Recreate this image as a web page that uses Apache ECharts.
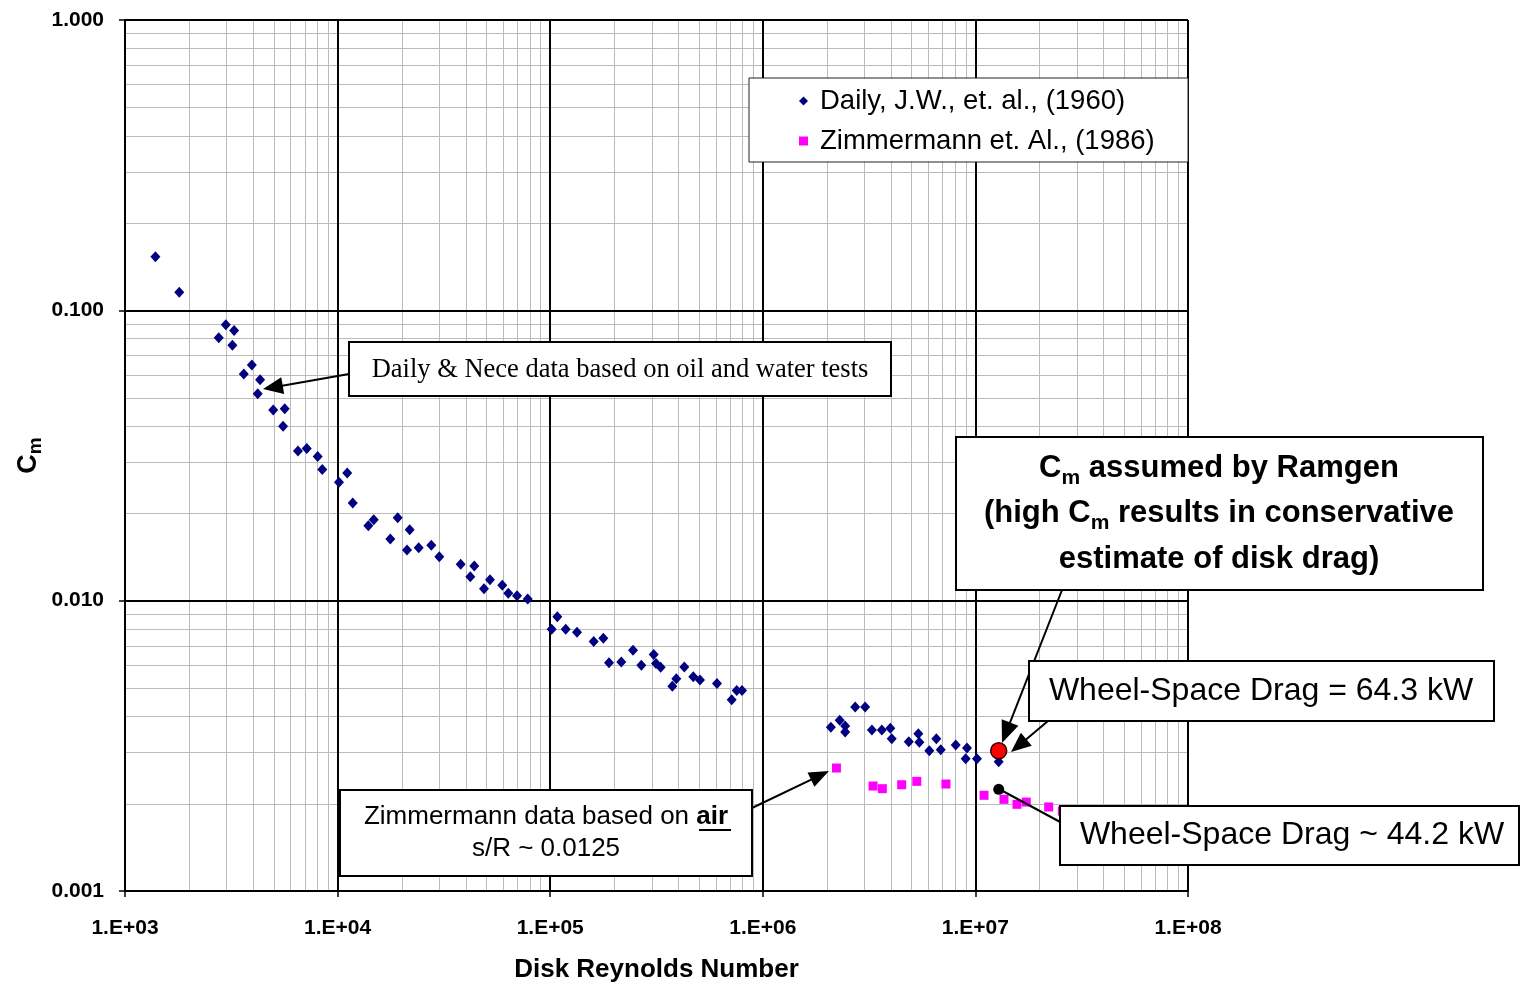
<!DOCTYPE html>
<html><head><meta charset="utf-8">
<script src="https://cdn.jsdelivr.net/npm/echarts@6/dist/echarts.min.js"></script>
<style>html,body{margin:0;padding:0;background:#fff}#c{width:1520px;height:985px}</style>
</head><body><div id="c"></div>
<script>
// ---- data ----
const dailyRe = [1390, 1800, 2760, 2980, 3260, 3200, 3950, 3620, 4320, 4210,
  4980, 5640, 5540, 6510, 7160, 8060, 8470, 10150, 11100, 11780,
  13950, 14790, 19170, 17700, 21830, 21210, 24070, 27590, 30090, 37930,
  43950, 42090, 52100, 48820, 59510, 63520, 69820, 78380, 101600, 108000,
  118300, 133700, 160200, 177800, 189100, 216000, 245200, 268300, 306800, 314500,
  330800, 427400, 391900, 375300, 471000, 506500, 609000, 714100, 753900, 798500,
  2.09e6, 2.30e6, 2.44e6, 2.44e6, 2.72e6, 3.03e6, 3.26e6, 3.63e6, 3.98e6, 4.04e6,
  4.86e6, 5.39e6, 5.45e6, 6.07e6, 6.55e6, 6.87e6, 8.08e6, 9.13e6, 9.00e6, 1.017e7,
  1.287e7];
const dailyCm = [0.1530, 0.1154, 0.0805, 0.0892, 0.0853, 0.0758, 0.0648, 0.0603, 0.0577, 0.0516,
  0.0454, 0.0458, 0.0399, 0.0328, 0.0334, 0.0314, 0.0283, 0.0256, 0.0275, 0.0217,
  0.0181, 0.0190, 0.0193, 0.0163, 0.01755, 0.01494, 0.01522, 0.01551, 0.01417, 0.01334,
  0.01316, 0.01209, 0.01181, 0.01100, 0.01129, 0.01060, 0.01040, 0.01013, 0.00797, 0.00881,
  0.00797, 0.00778, 0.00724, 0.00742, 0.00611, 0.00615, 0.00675, 0.00599, 0.00653, 0.00608,
  0.00590, 0.00591, 0.00538, 0.00507, 0.00547, 0.00533, 0.00518, 0.00456, 0.00490, 0.00490,
  0.003663, 0.003872, 0.003700, 0.003529, 0.004302, 0.004302, 0.003585, 0.003585, 0.003634, 0.003346,
  0.003267, 0.003481, 0.003252, 0.003042, 0.003346, 0.003067, 0.003184, 0.003108, 0.002855, 0.002855,
  0.002788];
const zimRe = [2.22e6, 3.30e6, 3.65e6, 4.50e6, 5.30e6, 7.27e6, 1.098e7, 1.363e7, 1.569e7, 1.735e7, 2.212e7, 2.563e7];
const zimCm = [0.002652, 0.002299, 0.002251, 0.002323, 0.002386, 0.002336, 0.002136, 0.002069, 0.001989, 0.002025, 0.001947, 0.001886];
const ramgenRe = [1.287e7];
const ramgenCm = [0.00304];
const wheelRe = [1.287e7];
const wheelCm = [0.00224];
const seriesNames = ['Daily, J.W., et. al., (1960)', 'Zimmermann et. Al., (1986)'];
const xTickLabels = ['1.E+03', '1.E+04', '1.E+05', '1.E+06', '1.E+07', '1.E+08'];
const yTickLabels = ['0.001', '0.010', '0.100', '1.000'];
const xDecadeExps = [3, 4, 5, 6, 7];
const yDecadeExps = [-3, -2, -1];
const minorMultipliers = [2, 3, 4, 5, 6, 7, 8, 9];

// ---- build ----
const SANS = '"Liberation Sans", Arial, sans-serif';
const SERIF = '"Liberation Serif", "Times New Roman", serif';
const minorX = [], minorY = [];
xDecadeExps.forEach(k => minorMultipliers.forEach(m => minorX.push(m * Math.pow(10, k))));
yDecadeExps.forEach(k => minorMultipliers.forEach(m => minorY.push(m * Math.pow(10, k))));
const gridData = minorX.map(v => [v, 0.01, 0]).concat(minorY.map(v => [1e5, v, 1]));

function arrow(x1, y1, x2, y2, hl, hw) {
  hl = hl || 20; hw = hw || 16;
  const dx = x2 - x1, dy = y2 - y1, L = Math.hypot(dx, dy);
  const ux = dx / L, uy = dy / L, px = -uy, py = ux;
  const bx = x2 - ux * hl, by = y2 - uy * hl;
  return [
    {type: 'line', z: 10, shape: {x1: x1, y1: y1, x2: bx + ux * 2, y2: by + uy * 2}, style: {stroke: '#000', lineWidth: 2}},
    {type: 'polygon', z: 10, shape: {points: [[x2, y2], [bx + px * hw / 2, by + py * hw / 2], [bx - px * hw / 2, by - py * hw / 2]]}, style: {fill: '#000'}}
  ];
}
function box(x, y, w, h) {
  return {type: 'rect', z: 10, shape: {x: x, y: y, width: w, height: h}, style: {fill: '#fff', stroke: '#000', lineWidth: 2}};
}
function txt(x, y, text, o) {
  return {type: 'text', z: 11, x: x, y: y, style: Object.assign({text: text, align: 'center', verticalAlign: 'middle', fill: '#000', fontFamily: SANS, fontSize: 26}, o || {})};
}
const subRich = {
  b: {fontFamily: SANS, fontSize: 31, fontWeight: 'bold', lineHeight: 31, color: '#000'},
  s: {fontFamily: SANS, fontSize: 21, fontWeight: 'bold', lineHeight: 21, padding: [20, 0, 0, 0], color: '#000'}
};

const graphics = [
  // legend frame
  {type: 'rect', z: 3, shape: {x: 749, y: 78, width: 439, height: 84}, style: {fill: '#fff', stroke: '#222', lineWidth: 1}},
  // Daily & Nece note
  ...arrow(349, 374, 263, 389, 20, 17),
  box(349, 342, 542, 54),
  txt(620, 370, 'Daily & Nece data based on oil and water tests', {fontFamily: SERIF, fontSize: 26.5}),
  // Zimmermann note
  ...arrow(752, 808, 829, 771, 20, 16),
  box(340, 790, 412, 86),
  txt(546, 817, 'Zimmermann data based on {a|air}', {rich: {a: {fontFamily: SANS, fontSize: 26, fontWeight: 'bold', color: '#000'}}}),
  {type: 'line', z: 11, shape: {x1: 699, y1: 830, x2: 731, y2: 830}, style: {stroke: '#000', lineWidth: 2}},
  txt(546, 849, 's/R ~ 0.0125'),
  // Ramgen note
  ...arrow(1062, 590, 1002, 743, 22, 18),
  box(956, 437, 527, 153),
  txt(1219, 468, '{b|C}{s|m}{b| assumed by Ramgen}', {rich: subRich}),
  txt(1219, 513, '{b|(high C}{s|m}{b| results in conservative}', {rich: subRich}),
  txt(1219, 559, '{b|estimate of disk drag)}', {rich: subRich}),
  // wheel-space 64.3
  ...arrow(1048, 721, 1011, 752, 20, 17),
  box(1029, 661, 465, 60),
  txt(1261, 691, 'Wheel-Space Drag = 64.3 kW', {fontSize: 32}),
  // wheel-space 44.2
  {type: 'line', z: 10, shape: {x1: 999, y1: 789, x2: 1062, y2: 823}, style: {stroke: '#000', lineWidth: 2}},
  box(1060, 806, 459, 59),
  txt(1292, 835, 'Wheel-Space Drag ~ 44.2 kW', {fontSize: 32})
];

const chart = echarts.init(document.getElementById('c'));
chart.setOption({
  animation: false,
  backgroundColor: '#fff',
  grid: {left: 125, right: 332, top: 20, bottom: 94, containLabel: false, outerBoundsMode: 'none'},
  legend: {
    orient: 'vertical', left: 794, top: 82, itemGap: 12, itemWidth: 9, itemHeight: 9, z: 4,
    textStyle: {fontFamily: SANS, fontSize: 27.5, color: '#000', padding: [0, 0, 0, 7]},
    data: [{name: seriesNames[0], icon: 'diamond'}, {name: seriesNames[1], icon: 'rect'}]
  },
  xAxis: {
    type: 'log', logBase: 10, min: 1e3, max: 1e8, splitNumber: 5, z: 2,
    axisLine: {show: true, lineStyle: {color: '#000', width: 2}},
    axisTick: {show: true, length: 6, lineStyle: {color: '#000', width: 1.5}},
    axisLabel: {margin: 27, fontFamily: SANS, fontSize: 21, fontWeight: 'bold', color: '#000',
      formatter: v => xTickLabels[Math.round(Math.log10(v)) - 3]},
    splitLine: {show: true, lineStyle: {color: '#000', width: 2}},
    name: 'Disk Reynolds Number', nameLocation: 'middle', nameGap: 66,
    nameTextStyle: {fontFamily: SANS, fontSize: 26, fontWeight: 'bold', color: '#000'}
  },
  yAxis: {
    type: 'log', logBase: 10, min: 0.001, max: 1, splitNumber: 3, z: 2,
    axisLine: {show: true, lineStyle: {color: '#000', width: 2}},
    axisTick: {show: true, length: 6, lineStyle: {color: '#000', width: 1.5}},
    axisLabel: {margin: 21, fontFamily: SANS, fontSize: 21, fontWeight: 'bold', color: '#000',
      formatter: v => yTickLabels[Math.round(Math.log10(v)) + 3]},
    splitLine: {show: true, lineStyle: {color: '#000', width: 2}},
    name: '{c|C}{m|m}', nameLocation: 'middle', nameRotate: 90, nameGap: 83, nameMoveOverlap: false,
    nameTextStyle: {rich: {
      c: {fontFamily: SANS, fontSize: 27, fontWeight: 'bold', lineHeight: 27, color: '#000'},
      m: {fontFamily: SANS, fontSize: 19, fontWeight: 'bold', lineHeight: 19, padding: [14, 0, 0, 0], color: '#000'}
    }}
  },
  graphic: {elements: graphics},
  series: [
    {
      type: 'custom', name: 'minor grid', z: 1, silent: true, coordinateSystem: 'cartesian2d',
      encode: {x: 0, y: 1}, data: gridData,
      renderItem: function (params, api) {
        const cs = params.coordSys;
        const p = api.coord([api.value(0), api.value(1)]);
        if (api.value(2) === 0) {
          const x = Math.round(p[0]) + 0.5;
          return {type: 'line', shape: {x1: x, y1: cs.y, x2: x, y2: cs.y + cs.height}, style: {stroke: '#bcbcbc', lineWidth: 1}};
        }
        const y = Math.round(p[1]) + 0.5;
        return {type: 'line', shape: {x1: cs.x, y1: y, x2: cs.x + cs.width, y2: y}, style: {stroke: '#bcbcbc', lineWidth: 1}};
      }
    },
    {
      type: 'scatter', name: seriesNames[0], z: 5, symbol: 'diamond', symbolSize: [10, 11],
      itemStyle: {color: '#000080', opacity: 1},
      data: dailyRe.map((x, i) => [x, dailyCm[i]])
    },
    {
      type: 'scatter', name: seriesNames[1], z: 5, symbol: 'rect', symbolSize: 9,
      itemStyle: {color: '#ff00ff', opacity: 1},
      data: zimRe.map((x, i) => [x, zimCm[i]])
    },
    {
      type: 'scatter', name: 'Ramgen Cm', z: 12, symbol: 'circle', symbolSize: 16,
      itemStyle: {color: '#ff0000', borderColor: '#3a0000', borderWidth: 1.5, opacity: 1},
      data: ramgenRe.map((x, i) => [x, ramgenCm[i]])
    },
    {
      type: 'scatter', name: 'Wheel-space point', z: 12, symbol: 'circle', symbolSize: 11,
      itemStyle: {color: '#000', opacity: 1},
      data: wheelRe.map((x, i) => [x, wheelCm[i]])
    }
  ]
});
</script></body></html>
